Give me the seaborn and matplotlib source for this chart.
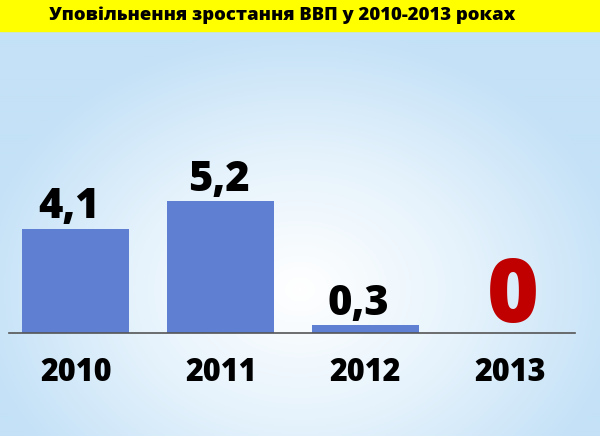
import numpy as np
import pandas as pd
import matplotlib
matplotlib.use("Agg")
import matplotlib.pyplot as plt
import seaborn as sns
from matplotlib.colors import LinearSegmentedColormap

# Data
years = ["2010", "2011", "2012", "2013"]
growth = [4.1, 5.2, 0.3, 0.0]
labels = ["4,1", "5,2", "0,3", "0"]
label_colors = ["black", "black", "black", "#c00000"]
title = "Уповільнення зростання ВВП у 2010-2013 роках"

df = pd.DataFrame({"year": years, "growth": growth})

sns.set_theme(style="white")
plt.rcParams["font.family"] = ["Open Sans", "DejaVu Sans"]

fig = plt.figure(figsize=(6, 4.36), dpi=100)

# background: soft radial gradient white -> light blue
bg = fig.add_axes([0, 0, 1, 1])
xx, yy = np.meshgrid(np.linspace(0, 600, 300), np.linspace(0, 436, 218))
r = np.sqrt(((xx - 300) / 330) ** 2 + ((yy - 290) / 260) ** 2)
bg_cmap = LinearSegmentedColormap.from_list("bg", ["#ffffff", "#e6f3fc", "#c4e1f7"])
bg.imshow(np.clip(r, 0, 1), cmap=bg_cmap, extent=[0, 600, 436, 0], aspect="auto")
bg.set_xlim(0, 600)
bg.set_ylim(436, 0)
bg.axis("off")

# yellow title strip
bg.fill_between([0, 600], 0, 31, color="#ffff00", zorder=2)
bg.text(282, 15.5, title, ha="center", va="center", fontsize=13.3, fontweight="extra bold",
        color="black", zorder=3)

# bar chart
ax = fig.add_axes([9 / 600, (436 - 333) / 436, 566 / 600, (333 - 40) / 436])
ax.patch.set_alpha(0)
sns.barplot(data=df, x="year", y="growth", color="#5f7fd3", saturation=1, width=0.74,
            linewidth=0, ax=ax)
ax.set_xlim(-0.463, 3.45)
ax.set_ylim(0, (333 - 40) / 25.3)

# value labels sit slightly left of the bar centres in the original
shift = [-0.05, -0.015, -0.05, 0.02]
for i, (v, t, c) in enumerate(zip(growth, labels, label_colors)):
    size = 64 if v == 0 else 30
    ax.text(i + shift[i], v + 0.43, t, ha="center", va="baseline",
            fontsize=size, fontweight="extra bold", color=c)

for s in ["top", "right", "left"]:
    ax.spines[s].set_visible(False)
ax.spines["bottom"].set_color("#555555")
ax.spines["bottom"].set_linewidth(1.2)
ax.set_yticks([])
ax.set_xlabel("")
ax.set_ylabel("")
ax.tick_params(axis="x", length=0, pad=17)
for lab in ax.get_xticklabels():
    lab.set_fontsize(22)
    lab.set_fontweight("extra bold")
    lab.set_color("black")

fig.savefig("out.png", dpi=100)
